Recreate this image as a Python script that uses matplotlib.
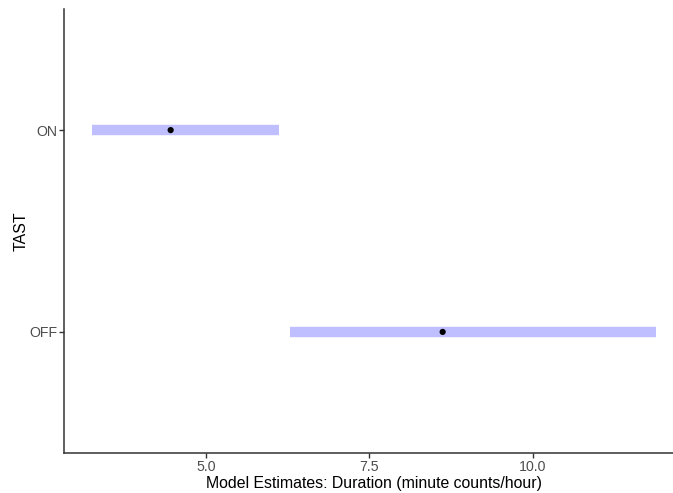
import numpy as np
import matplotlib.pyplot as plt

plt.rcParams['font.family'] = ['Liberation Sans', 'DejaVu Sans']

categorias = ['OFF', 'ON']
estimativa = [8.62, 4.46]
inferior = [6.28, 3.26]
superior = [11.88, 6.12]

fig = plt.figure(figsize=(6.73, 4.93), dpi=100)
ax = fig.add_axes([64 / 673, 40 / 493, 620 / 673, 444 / 493])

ypos = np.arange(len(categorias))
for y, lo, hi in zip(ypos, inferior, superior):
    ax.plot([lo, hi], [y, y], color='#bfbfff', linewidth=7.5, solid_capstyle='butt', zorder=1)
ax.scatter(estimativa, ypos, color='black', s=20, zorder=2, edgecolors='none')

lo_all, hi_all = min(inferior), max(superior)
pad = 0.05 * (hi_all - lo_all)
ax.set_xlim(lo_all - pad, hi_all + pad)
ax.set_ylim(-0.6, len(categorias) - 1 + 0.6)

ax.set_yticks(ypos)
ax.set_yticklabels(categorias)
ax.set_xticks([5.0, 7.5, 10.0])
ax.set_xticklabels(['5.0', '7.5', '10.0'])

for s in ['top', 'right']:
    ax.spines[s].set_visible(False)
for s in ['left', 'bottom']:
    ax.spines[s].set_color('#333333')
    ax.spines[s].set_linewidth(1.1)
ax.tick_params(axis='both', colors='#333333', length=3.5, width=1.0, labelsize=10.2,
               labelcolor='#4d4d4d', pad=1.5)

ax.set_xlabel('Model Estimates: Duration (minute counts/hour)', fontsize=11.4, labelpad=1.5)
ax.set_ylabel('TAST', fontsize=11.4, labelpad=0.5)

fig.savefig('out.png', dpi=100)
